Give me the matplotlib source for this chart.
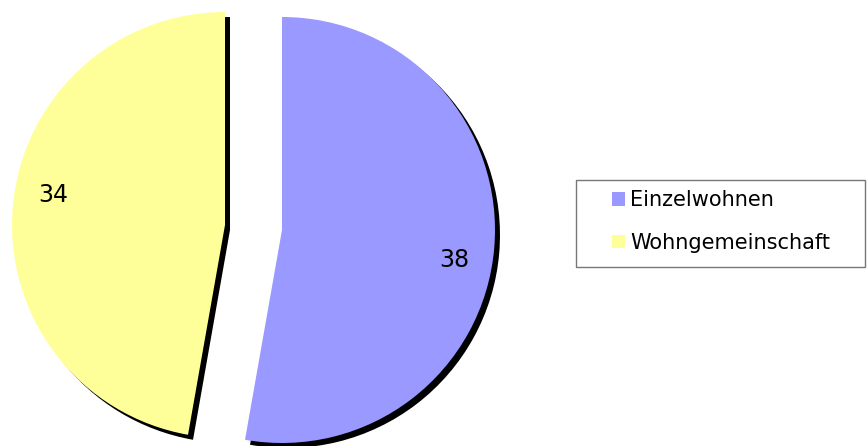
import numpy as np
import matplotlib.pyplot as plt
from matplotlib.patches import Rectangle

# data
labels = ["Einzelwohnen", "Wohngemeinschaft"]
values = [38, 34]
colors = ["#9999FF", "#FFFF99"]

W, H = 867, 446
fig = plt.figure(figsize=(W / 100, H / 100), dpi=100)
ax = fig.add_axes([0, 0, 1, 1])

cx, cy = 253.5, H - 227.5
r = 213
explode = [28.6, 28.6]  # pie offsets in data units (pixels here)

# shadow
ax.pie(values, colors=["black"] * 2, startangle=90, counterclock=False,
       center=(cx + 5, cy - 5), radius=r, explode=explode,
       wedgeprops=dict(linewidth=0))

total = sum(values)
wedges, texts, autotexts = ax.pie(
    values, colors=colors, startangle=90, counterclock=False,
    center=(cx, cy), radius=r, explode=explode,
    autopct=lambda p: f"{round(p * total / 100)}", pctdistance=0.82,
    wedgeprops=dict(linewidth=0),
    textprops=dict(fontsize=17, color="black", family="DejaVu Sans"))

# value labels sit a little clockwise of the wedge middle
for w, t in zip(wedges, autotexts):
    ang = np.deg2rad((w.theta1 + w.theta2) / 2 - 5)
    x0, y0 = w.center
    t.set_position((x0 + 0.82 * r * np.cos(ang), y0 + 0.82 * r * np.sin(ang)))

ax.set_xlim(0, W)
ax.set_ylim(0, H)
ax.set_aspect("equal")
ax.axis("off")

# legend frame
fig.patches.append(Rectangle((576 / W, 1 - 267 / H), 289 / W, 87 / H,
                             transform=fig.transFigure, facecolor="white",
                             edgecolor="#777777", linewidth=1, zorder=0))

leg = fig.legend(wedges, labels, loc="center left",
                 bbox_to_anchor=(612 / W, 1 - 221.5 / H),
                 bbox_transform=fig.transFigure,
                 fontsize=15, frameon=False, borderaxespad=0, borderpad=0,
                 handlelength=0.63, handleheight=0.63, handletextpad=0.24,
                 labelspacing=1.1)

fig.savefig("out.png", dpi=100)
